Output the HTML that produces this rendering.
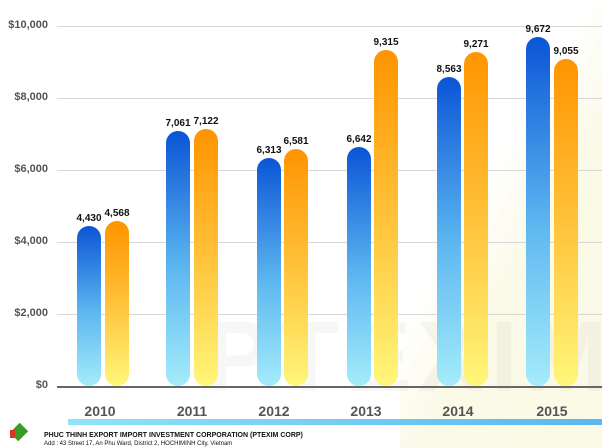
<!DOCTYPE html>
<html><head><style>
body{margin:0;width:602px;height:448px;overflow:hidden;background:#fff;font-family:"Liberation Sans",sans-serif;position:relative}
.a{position:absolute}
.yl{position:absolute;right:554px;font-size:11px;color:#555;font-weight:bold;text-align:right}
.g{position:absolute;left:57px;width:545px;height:1px;background:#d8d8d8}
.b{position:absolute;width:24px;border-radius:12px}
.bl{background:linear-gradient(#0a55d6,#5fb8f0 55%,#a4ecfb)}
.or{background:linear-gradient(#ff9400,#ffc23a 50%,#fff77a)}
.v{position:absolute;font-size:10px;font-weight:bold;color:#111;width:40px;text-align:center}
.yr{position:absolute;top:403px;font-size:14px;font-weight:bold;color:#555;width:60px;text-align:center}
</style></head><body>
<div class="a" style="left:400px;top:0;width:202px;height:448px;background:linear-gradient(120deg,rgba(255,255,255,0) 40%,rgba(250,248,225,.8) 60%)"></div>
<div class="a" style="left:205px;top:300px;font-size:100px;font-weight:bold;color:rgba(200,200,190,.15);letter-spacing:6px">PTEXIM</div>
<div class="yl" style="top:19px">$10,000</div>
<div class="yl" style="top:91px">$8,000</div>
<div class="yl" style="top:163px">$6,000</div>
<div class="yl" style="top:235px">$4,000</div>
<div class="yl" style="top:307px">$2,000</div>
<div class="yl" style="top:379px">$0</div>
<div class="g" style="top:26px"></div><div class="g" style="top:98px"></div><div class="g" style="top:170px"></div><div class="g" style="top:242px"></div><div class="g" style="top:314px"></div>
<div class="a" style="left:57px;top:386px;width:545px;height:2px;background:#666"></div>

<div class="b bl" style="left:77px;top:226px;height:160px"></div><div class="b or" style="left:105px;top:221px;height:165px"></div>
<div class="v" style="left:69px;top:213px">4,430</div><div class="v" style="left:97px;top:208px">4,568</div>
<div class="b bl" style="left:166px;top:131px;height:255px"></div><div class="b or" style="left:194px;top:129px;height:257px"></div>
<div class="v" style="left:158px;top:118px">7,061</div><div class="v" style="left:186px;top:116px">7,122</div>
<div class="b bl" style="left:257px;top:158px;height:228px"></div><div class="b or" style="left:284px;top:149px;height:237px"></div>
<div class="v" style="left:249px;top:145px">6,313</div><div class="v" style="left:276px;top:136px">6,581</div>
<div class="b bl" style="left:347px;top:147px;height:239px"></div><div class="b or" style="left:374px;top:50px;height:336px"></div>
<div class="v" style="left:339px;top:134px">6,642</div><div class="v" style="left:366px;top:37px">9,315</div>
<div class="b bl" style="left:437px;top:77px;height:309px"></div><div class="b or" style="left:464px;top:52px;height:334px"></div>
<div class="v" style="left:429px;top:64px">8,563</div><div class="v" style="left:456px;top:39px">9,271</div>
<div class="b bl" style="left:526px;top:37px;height:349px"></div><div class="b or" style="left:554px;top:59px;height:327px"></div>
<div class="v" style="left:518px;top:24px">9,672</div><div class="v" style="left:546px;top:46px">9,055</div>

<div class="yr" style="left:70px">2010</div><div class="yr" style="left:162px">2011</div><div class="yr" style="left:244px">2012</div><div class="yr" style="left:336px">2013</div><div class="yr" style="left:428px">2014</div><div class="yr" style="left:522px">2015</div>
<div class="a" style="left:68px;top:419px;width:534px;height:6px;background:linear-gradient(90deg,#8fe4f8,#5ab6ee)"></div>
<div class="a" style="left:13px;top:425px;width:12px;height:14px;background:#3c9a2a;transform:rotate(45deg)"></div>
<div class="a" style="left:10px;top:430px;width:5px;height:8px;background:#d32"></div>
<div class="a" style="left:44px;top:432px;font-size:7px;font-weight:bold;color:#111">PHUC THINH EXPORT IMPORT INVESTMENT CORPORATION (PTEXIM CORP)</div>
<div class="a" style="left:44px;top:441px;font-size:6px;color:#111">Add : 43 Street 17, An Phu Ward, District 2, HOCHIMINH City, Vietnam</div>
</body></html>
